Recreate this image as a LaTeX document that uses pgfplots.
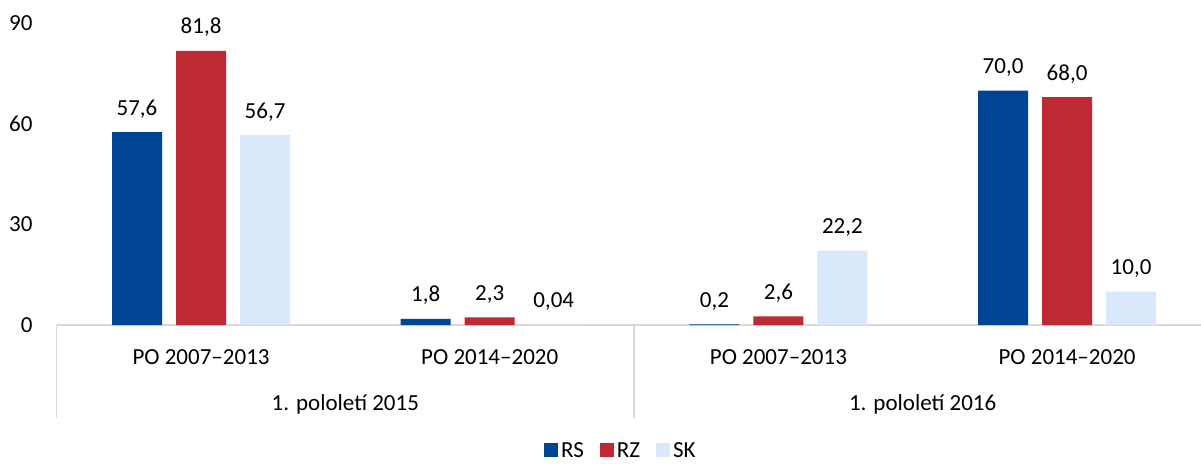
\documentclass[border=0pt]{standalone}
\usepackage{fontspec}
\setmainfont{Carlito}
\usepackage{pgfplots}
\pgfplotsset{compat=1.18}
\definecolor{rs}{RGB}{0,68,148}
\definecolor{rz}{RGB}{190,41,52}
\definecolor{sk}{RGB}{218,232,252}
\definecolor{axgray}{RGB}{217,217,217}
\newcommand{\fs}{\fontsize{23}{27}\selectfont}
\begin{document}
\fs
\begin{tikzpicture}
\path[use as bounding box] (-56.7pt,-138pt) rectangle (1144.3pt,325pt);
\begin{axis}[
  at={(0pt,0pt)}, anchor=south west,
  scale only axis, width=1144.3pt, height=301.5pt,
  xmin=-0.5, xmax=3.464, ymin=0, ymax=90,
  clip=false,
  separate axis lines,
  axis x line*=bottom, axis y line*=left,
  x axis line style={axgray, line width=1.5pt, -},
  y axis line style={draw=none},
  major tick length=0pt,
  xtick style={draw=none}, ytick style={draw=none},
  ytick={0,30,60,90},
  /pgf/number format/assume math mode=true,
  yticklabel style={anchor=east, inner sep=0pt, xshift=-24pt, font=\fs},
  xtick={0,1,2,3},
  xticklabels={PO 2007–2013, PO 2014–2020, PO 2007–2013, PO 2014–2020},
  xticklabel style={anchor=center, inner sep=0pt, yshift=-32pt, font=\fs},
  ybar=14pt, bar width=50pt,
  nodes near coords,
  point meta=explicit symbolic,
  every node near coord/.append style={anchor=base, inner sep=0pt, yshift=17pt, font=\fs, text=black},
  legend style={at={(0.4935,-0.415)}, anchor=center, draw=none, fill=none, legend columns=3,
    font=\fs,
    /tikz/every even column/.append style={column sep=13pt},
    nodes={inner ysep=0pt, inner xsep=3pt, text depth=0pt}},
  legend image code/.code={\fill[#1] (0pt,-7pt) rectangle (14pt,7pt);},
]
\addplot[fill=rs, draw=none] table[meta=l] {
x y l
0 57.6 57,6
1 1.8 1,8
2 0.2 0,2
3 70.0 70,0
};
\addplot[fill=rz, draw=none] table[meta=l] {
x y l
0 81.8 81,8
1 2.3 2,3
2 2.6 2,6
3 68.0 68,0
};
\addplot[fill=sk, draw=none] table[meta=l] {
x y l
0 56.7 56,7
1 0.04 0,04
2 22.2 22,2
3 10.0 10,0
};
\legend{RS,RZ,SK}
\draw[axgray, line width=1.5pt] (axis cs:-0.5,0) -- ++(0pt,-93pt);
\draw[axgray, line width=1.5pt] (axis cs:1.5,0) -- ++(0pt,-93pt);
\node[inner sep=0pt, anchor=center] at ([yshift=-79pt]axis cs:0.5,0) {1. pololetí 2015};
\node[inner sep=0pt, anchor=center] at ([yshift=-79pt]axis cs:2.5,0) {1. pololetí 2016};
\end{axis}
\end{tikzpicture}
\end{document}
